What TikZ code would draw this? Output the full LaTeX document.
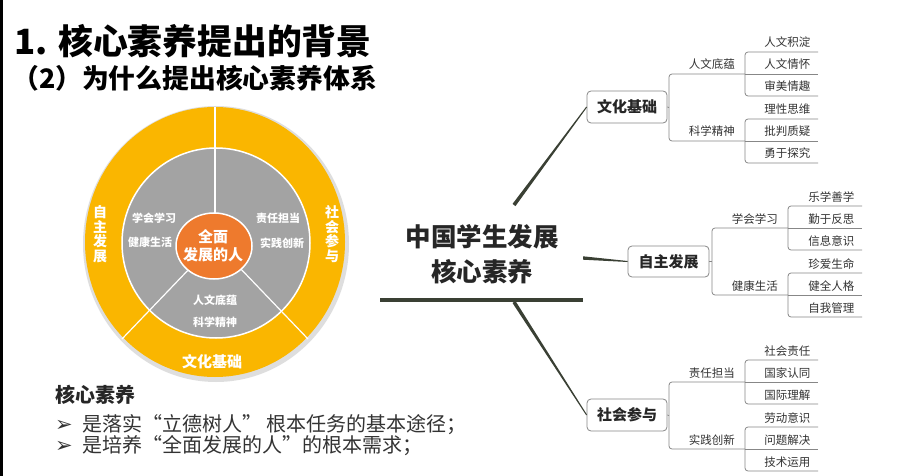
\documentclass[tikz,border=0pt]{standalone}
\usepackage{fontspec}
\newfontfamily\cjk{Noto Sans CJK SC}
\newfontfamily\djv{DejaVu Sans}
\usetikzlibrary{calc}
\definecolor{ringY}{RGB}{250,182,0}
\definecolor{midG}{RGB}{163,163,163}
\definecolor{coreO}{RGB}{238,122,45}
\definecolor{stem}{RGB}{58,64,52}
\definecolor{brk}{RGB}{135,135,135}
\definecolor{txt}{RGB}{51,51,51}
\tikzset{
  titletxt/.style={anchor=west,inner sep=0,font=\cjk\bfseries\fontsize{34.8}{40}\selectfont},
  subtxt/.style={anchor=west,inner sep=0,font=\cjk\bfseries\fontsize{26.8}{30}\selectfont},
  ringtxt/.style={inner sep=0,text=white,align=center,font=\cjk\bfseries\fontsize{14}{14.5}\selectfont},
  midtxt/.style={inner sep=0,text=white,font=\cjk\bfseries\fontsize{11}{12}\selectfont},
  coretxt/.style={inner sep=0,text=white,align=center,font=\cjk\bfseries\fontsize{15}{18}\selectfont},
  mmc/.style={inner sep=0,align=center,text=black!85,font=\cjk\bfseries\fontsize{25.5}{35}\selectfont},
  mbox/.style={draw=brk,line width=0.8,fill=white,rounded corners=4,inner sep=0,
    minimum height=32,font=\cjk\bfseries\fontsize{15}{16}\selectfont,text=black!85},
  lab2/.style={anchor=base east,inner sep=0,text=txt,font=\cjk\fontsize{11.5}{12}\selectfont},
  leaf/.style={anchor=base east,inner sep=0,text=txt,font=\cjk\fontsize{11.5}{12}\selectfont},
  bl/.style={brk,line width=0.8},
  bodytxt/.style={anchor=west,inner sep=0,text=black!80,font=\cjk\fontsize{20}{21}\selectfont},
  bullet/.style={anchor=west,inner sep=0,text=black!80,font=\djv\fontsize{21}{22}\selectfont},
}
\newcommand\levelone[7]{%
  \draw[bl] (#1.east) -- (#2,{(#4+#5)/2});
  \draw[bl,rounded corners=3] (#3,#4) -- (#2,#4) -- (#2,#5) -- (#3,#5);
  \node[lab2] at (#3-10,#4-5) {#6};
  \node[lab2] at (#3-10,#5-5) {#7};}
\newcommand\leveltwo[7]{%
  \draw[bl,rounded corners=3] (#2,#3-#7) -- (#1,#3-#7) -- (#1,#3+#7) -- (#2,#3+#7);
  \draw[bl] (#1,#3) -- (#2,#3);
  \node[leaf] at (#2-7.5,#3-#7-5) {#4};
  \node[leaf] at (#2-7.5,#3-5) {#5};
  \node[leaf] at (#2-7.5,#3+#7-5) {#6};}
\begin{document}
\begin{tikzpicture}[x=1pt,y=-1pt]
\useasboundingbox (0,0) rectangle (903,476);
\fill[white] (0,0) rectangle (903,476);
\fill[black] (0,0) rectangle (3,476);
% titles
\node[titletxt] (title) at (14,41) {1. 核心素养提出的背景};
\node[subtxt] (sub) at (12,78) {（2）为什么提出核心素养体系};
% circle diagram
\coordinate (C) at (215,242);
\fill[black!25,opacity=0.5] (216,244) ellipse [x radius=133,y radius=138];
\fill[ringY] (C) ellipse [x radius=130,y radius=135];
\fill[midG,draw=white,line width=1.5] (216,243) ellipse [x radius=94,y radius=95];
\draw[white,line width=1.2] (C) -- ++(0,-135);
\draw[white,line width=1.2] (C) -- ++(-93,97);
\draw[white,line width=1.2] (C) -- ++(93,97);
\fill[coreO,draw=white,line width=1.5] (214,246) ellipse [x radius=38,y radius=33];
\node[ringtxt] (zz) at (100,234) {自\\主\\发\\展};
\node[ringtxt] (sh) at (332,234) {社\\会\\参\\与};
\node[ringtxt,font=\cjk\bfseries\fontsize{15}{16}\selectfont] (wh) at (212,362) {文化基础};
\node[midtxt] (m1) at (154,218) {学会学习};
\node[midtxt] (m2) at (150,242) {健康生活};
\node[midtxt] (m3) at (278,218) {责任担当};
\node[midtxt] (m4) at (282,243) {实践创新};
\node[midtxt] (m5) at (215,300) {人文底蕴};
\node[midtxt] (m6) at (215,322) {科学精神};
\node[coretxt] (core) at (213,246) {全面\\发展的人};
% bottom text
\node[anchor=west,inner sep=0,text=black!85,font=\cjk\bfseries\fontsize{20}{22}\selectfont] (hx) at (55,395) {核心素养};
\node[bullet] (bu1) at (55,426) {➢};
\node[bullet] (bu2) at (55,447) {➢};
\node[bodytxt] (t1) at (82,425) {是落实“立德树人” 根本任务的基本途径；};
\node[bodytxt] (t2) at (82,446) {是培养“全面发展的人”的根本需求；};
% mind map
\node[mmc] (center) at (482,254) {中国学生发展\\核心素养};
\coordinate (hl1) at (380,300);
\coordinate (hl2) at (583,300);
\draw[stem,line width=4] (hl1) -- (hl2);
\node[mbox,minimum width=80] (b1) at (627,107) {文化基础};
\node[mbox,minimum width=81,minimum height=31] (b2) at (668.5,261.5) {自主发展};
\node[mbox,minimum width=80] (b3) at (627,415) {社会参与};
\coordinate (s1) at (514,205);
\coordinate (s2) at (583,258);
\coordinate (s3) at (514,302);
\fill[stem] ($(s1)+(-1.45,-1.1)$) -- ($(s1)+(1.45,1.1)$) -- ($(b1.west)+(0.4,0.3)$) -- ($(b1.west)+(-0.4,-0.3)$) -- cycle;
\fill[stem] ($(s2)+(0,-1.7)$) -- ($(s2)+(0,1.7)$) -- ($(b2.west)+(0,0.5)$) -- ($(b2.west)+(0,-0.5)$) -- cycle;
\fill[stem] ($(s3)+(-1.5,0.97)$) -- ($(s3)+(1.5,-0.97)$) -- ($(b3.west)+(0.42,-0.27)$) -- ($(b3.west)+(-0.42,0.27)$) -- cycle;
% branches
\levelone{b1}{669}{745}{74}{141}{人文底蕴}{科学精神}
\leveltwo{745}{818}{74}{人文积淀}{人文情怀}{审美情趣}{22}
\leveltwo{745}{818}{141}{理性思维}{批判质疑}{勇于探究}{22}
\levelone{b2}{712}{788}{228}{295}{学会学习}{健康生活}
\leveltwo{788}{862}{228}{乐学善学}{勤于反思}{信息意识}{22}
\leveltwo{788}{862}{295}{珍爱生命}{健全人格}{自我管理}{22}
\levelone{b3}{669}{745}{382}{449}{责任担当}{实践创新}
\leveltwo{745}{818}{382}{社会责任}{国家认同}{国际理解}{22}
\leveltwo{745}{818}{449}{劳动意识}{问题解决}{技术运用}{22}
\end{tikzpicture}
\end{document}
